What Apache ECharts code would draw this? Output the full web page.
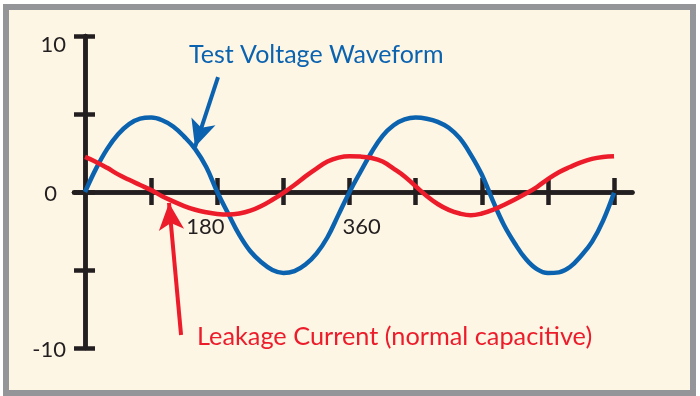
<!DOCTYPE html>
<html>
<head>
<meta charset="utf-8">
<script src="https://cdn.jsdelivr.net/npm/echarts@6/dist/echarts.min.js"></script>
<style>
html,body{margin:0;padding:0;background:#fff;}
#chart{width:700px;height:396px;}
</style>
</head>
<body>
<div id="chart"></div>
<script>
// ---- data ----
const degrees = [0,15,30,45,60,75,90,105,120,135,150,165,180,195,210,225,240,255,270,285,300,315,330,345,360,375,390,405,420,435,450,465,480,495,510,525,540,555,570,585,600,615,630,645,660,675,690,705,720];
const voltageVal = [0,1.5,2.75,3.7,4.35,4.7,4.77,4.6,4.2,3.55,2.75,1.6,0,-1.4,-2.75,-3.8,-4.5,-5.0,-5.19,-5.07,-4.65,-3.95,-2.9,-1.45,0,1.3,2.55,3.6,4.28,4.65,4.77,4.7,4.5,4.12,3.45,2.4,1.12,-0.55,-2.1,-3.3,-4.3,-4.95,-5.2,-5.15,-4.81,-4.1,-3.2,-1.85,-0.05];
const currentVal = [2.25,1.93,1.55,1.13,0.78,0.45,0.12,-0.27,-0.6,-0.9,-1.14,-1.3,-1.41,-1.45,-1.38,-1.2,-0.9,-0.5,-0.05,0.45,1.0,1.5,1.95,2.2,2.29,2.27,2.18,1.95,1.5,1.0,0.37,-0.25,-0.77,-1.15,-1.38,-1.49,-1.38,-1.15,-0.83,-0.48,-0.1,0.32,0.83,1.27,1.6,1.9,2.12,2.24,2.29];
const xTickValues = [90,180,270,360,450,540,630,720];
const xLabelValues = [180,360];
const yLabelValues = [10,0,-10];
const voltageName = 'Test Voltage Waveform';
const currentName = 'Leakage Current (normal capacitive)';
// annotation arrows [tail, tip] in data coordinates (degrees, value)
const voltageArrow = [[181,7.37],[149.7,2.88]];
const currentArrow = [[130.7,-9.17],[114.3,-0.7]];

const BLUE = '#0b63b0', RED = '#ec1c2b', INK = '#231f20';
const FONT = 'Lato';

const chart = echarts.init(document.getElementById('chart'), null, {renderer:'canvas'});
const pairs = (xs, ys) => xs.map((x,i)=>[x, ys[i]]);

const xBase = {
  type:'value', min:-15, max:745,
  axisLine:{onZero:true, onZeroAxisIndex:0, lineStyle:{color:INK, width:4.5}},
  splitLine:{show:false}
};
const yBase = {
  type:'value', min:-10, max:10, interval:5, position:'left',
  axisLine:{onZero:true, onZeroAxisIndex:0, lineStyle:{color:INK, width:4.5}},
  splitLine:{show:false}
};

chart.setOption({
  animation:false,
  backgroundColor:'#ffffff',
  graphic:[
    {type:'rect', z:-10, shape:{x:6, y:7, width:687, height:386},
     style:{fill:'#fdf6e5', stroke:'#939598', lineWidth:6}},
    {type:'text', x:189, y:55, style:{text:voltageName, fill:BLUE, font:'25px '+FONT, verticalAlign:'middle', align:'left'}},
    {type:'text', x:197, y:337, style:{text:currentName, fill:RED, font:'25.3px '+FONT, verticalAlign:'middle', align:'left'}}
  ],
  grid:[
    {left:74, right:67.6, top:36, bottom:48, containLabel:false},
    {left:74, right:67.6, top:36, bottom:204, containLabel:false}
  ],
  xAxis:[
    Object.assign({}, xBase, {
      gridIndex:0, position:'bottom',
      axisTick:{show:true, inside:false, length:13, customValues:xTickValues, lineStyle:{color:INK, width:4.5}},
      axisLabel:{show:false}
    }),
    Object.assign({}, xBase, {
      gridIndex:0, position:'bottom',
      axisTick:{show:true, inside:true, length:14, customValues:xTickValues, lineStyle:{color:INK, width:4.5}},
      axisLabel:{show:false}
    }),
    {
      type:'value', gridIndex:1, min:-15, max:745, position:'bottom',
      axisLine:{show:false, onZero:false}, axisTick:{show:false}, splitLine:{show:false},
      axisLabel:{show:true, customValues:xLabelValues, margin:24, color:INK, fontFamily:FONT, fontSize:22,
        formatter:(v)=> v===180 ? '{a|180}' : '{b|360}',
        rich:{a:{padding:[0,24,0,0], fontFamily:FONT, fontSize:22, color:INK}, b:{padding:[0,0,0,24], fontFamily:FONT, fontSize:22, color:INK}}}
    }
  ],
  yAxis:[
    Object.assign({}, yBase, {
      gridIndex:0,
      axisTick:{show:true, inside:false, length:11, lineStyle:{color:INK, width:4.5}},
      axisLabel:{show:true, margin:8, color:INK, fontFamily:FONT, fontSize:22, align:'right',
        formatter:(v)=> yLabelValues.indexOf(v) < 0 ? '' : (v===10 ? '{t|10}' : (v===0 ? '{z|0}' : '{m|-10}')),
        rich:{
          t:{padding:[18,0,0,0], fontFamily:FONT, fontSize:22, color:INK},
          z:{padding:[4,9,0,0], fontFamily:FONT, fontSize:22, color:INK},
          m:{padding:[4,0,0,0], fontFamily:FONT, fontSize:22, color:INK}
        }}
    }),
    Object.assign({}, yBase, {
      gridIndex:0,
      axisTick:{show:true, inside:true, length:10, lineStyle:{color:INK, width:4.5}},
      axisLabel:{show:false}
    }),
    {type:'value', gridIndex:1, min:-10, max:10, show:false}
  ],
  series:[
    {name:voltageName, type:'line', xAxisIndex:0, yAxisIndex:0, smooth:0.4, showSymbol:false, z:3,
     data:pairs(degrees, voltageVal), lineStyle:{color:BLUE, width:4.5}, itemStyle:{color:BLUE},
     markLine:{silent:true, symbol:['none','arrow'], symbolSize:[19,27], label:{show:false},
       lineStyle:{color:BLUE, width:4, type:'solid'},
       data:[[{coord:voltageArrow[0]},{coord:voltageArrow[1]}]]}},
    {name:currentName, type:'line', xAxisIndex:0, yAxisIndex:0, smooth:0.4, showSymbol:false, z:4,
     data:pairs(degrees, currentVal), lineStyle:{color:RED, width:4.5}, itemStyle:{color:RED},
     markLine:{silent:true, symbol:['none','arrow'], symbolSize:[19,27], label:{show:false},
       lineStyle:{color:RED, width:4, type:'solid'},
       data:[[{coord:currentArrow[0]},{coord:currentArrow[1]}]]}}
  ]
});
</script>
</body>
</html>
